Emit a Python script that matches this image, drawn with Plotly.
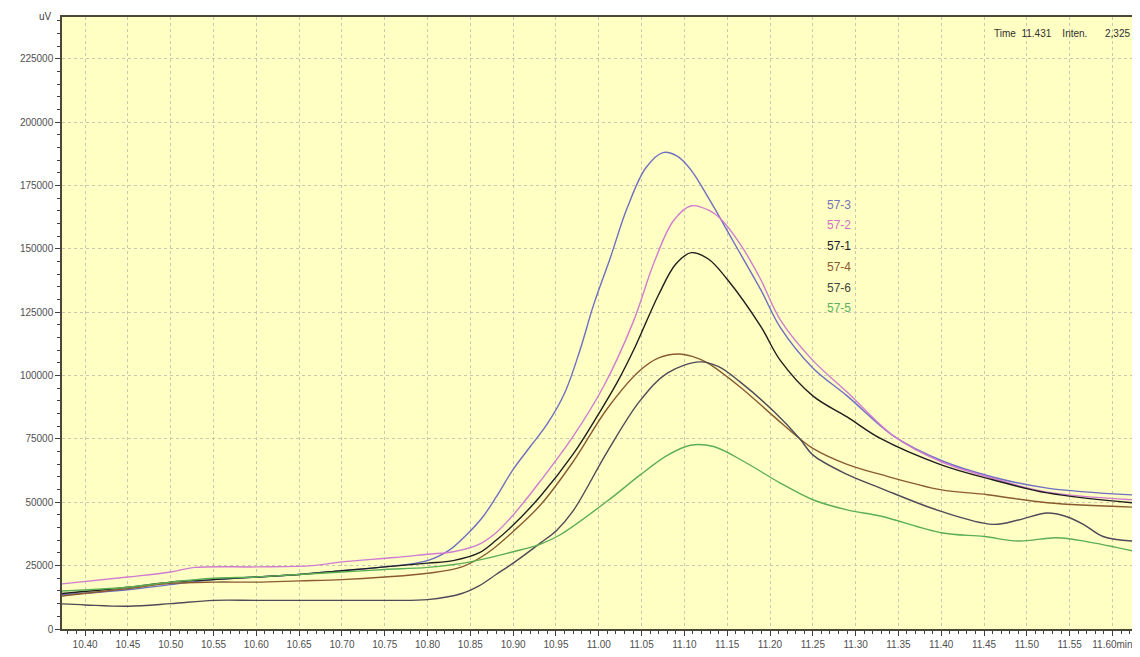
import plotly.graph_objects as go

# ---------------- data ----------------
x_ticks = [10.40, 10.45, 10.50, 10.55, 10.60, 10.65, 10.70, 10.75, 10.80, 10.85, 10.90, 10.95,
           11.00, 11.05, 11.10, 11.15, 11.20, 11.25, 11.30, 11.35, 11.40, 11.45, 11.50, 11.55, 11.60]
x_tick_text = ["10.40", "10.45", "10.50", "10.55", "10.60", "10.65", "10.70", "10.75", "10.80",
               "10.85", "10.90", "10.95", "11.00", "11.05", "11.10", "11.15", "11.20", "11.25",
               "11.30", "11.35", "11.40", "11.45", "11.50", "11.55", "11.60min"]
y_ticks = [0, 25000, 50000, 75000, 100000, 125000, 150000, 175000, 200000, 225000]

series_names = ["57-3", "57-2", "57-1", "57-4", "57-6", "57-5"]

t_573 = [10.373, 10.45, 10.50, 10.55, 10.60, 10.65, 10.70, 10.75, 10.80, 10.825, 10.845, 10.864,
         10.88, 10.90, 10.92, 10.94, 10.96, 10.978, 10.994, 11.013, 11.033, 11.055, 11.075, 11.092,
         11.108, 11.13, 11.157, 11.189, 11.212, 11.25, 11.29, 11.345, 11.40, 11.46, 11.524, 11.624]
v_573 = [13500, 15500, 17500, 19500, 20500, 21500, 23000, 24500, 27000, 31000, 37000, 44000,
         52000, 63000, 72000, 81000, 93000, 110000, 128000, 146000, 166000, 182000, 188000, 186500,
         181000, 169000, 153000, 134000, 119000, 103000, 92000, 76000, 66500, 60000, 55600, 52900]

t_572 = [10.373, 10.45, 10.50, 10.528, 10.60, 10.665, 10.70, 10.762, 10.80, 10.83, 10.86, 10.88,
         10.90, 10.932, 10.97, 11.006, 11.04, 11.065, 11.087, 11.108, 11.13, 11.142, 11.165,
         11.189, 11.212, 11.25, 11.29, 11.345, 11.40, 11.46, 11.524, 11.624]
v_572 = [17800, 20500, 22500, 24300, 24500, 25000, 26500, 28200, 29500, 30500, 33400, 38000,
         45000, 58500, 76000, 96000, 121000, 145000, 161000, 167000, 165000, 162000, 152000,
         138000, 122000, 106000, 93500, 76000, 66000, 59500, 54000, 51000]

t_571 = [10.373, 10.45, 10.50, 10.55, 10.60, 10.65, 10.70, 10.75, 10.80, 10.83, 10.86, 10.88,
         10.90, 10.932, 10.97, 11.00, 11.021, 11.042, 11.07, 11.09, 11.108, 11.128, 11.15, 11.189,
         11.212, 11.25, 11.29, 11.329, 11.40, 11.46, 11.524, 11.624]
v_571 = [14000, 16500, 18500, 19500, 20500, 21500, 23000, 24500, 26000, 27000, 30000, 35000,
         41000, 52500, 69000, 85000, 97000, 111000, 132000, 144000, 148500, 146000, 138000, 119500,
         106000, 92000, 83700, 75200, 64800, 58900, 53700, 49800]

t_574 = [10.373, 10.45, 10.50, 10.55, 10.60, 10.65, 10.70, 10.75, 10.80, 10.84, 10.87, 10.90,
         10.932, 10.97, 11.01, 11.048, 11.07, 11.093, 11.11, 11.127, 11.165, 11.204, 11.235, 11.25,
         11.29, 11.329, 11.399, 11.454, 11.524, 11.624]
v_574 = [13000, 16000, 18000, 18500, 18500, 19000, 19500, 20500, 22000, 24500, 30000, 38500,
         49000, 66000, 87000, 102000, 107000, 108500, 107500, 105000, 95500, 84000, 75000, 71300,
         65000, 61000, 55000, 53000, 49800, 48100]

t_576 = [10.373, 10.40, 10.45, 10.50, 10.55, 10.60, 10.65, 10.70, 10.75, 10.80, 10.84, 10.86,
         10.88, 10.90, 10.932, 10.951, 10.97, 11.01, 11.048, 11.08, 11.118, 11.14, 11.165, 11.204,
         11.235, 11.25, 11.29, 11.329, 11.399, 11.46, 11.49, 11.524, 11.545, 11.566, 11.589, 11.624]
v_576 = [9900, 9500, 9000, 10000, 11300, 11300, 11300, 11300, 11300, 11600, 14000, 17000,
         21500, 26000, 34000, 39000, 46600, 70000, 90000, 101000, 105400, 103500, 97500, 86000,
         75000, 68700, 61000, 55600, 46500, 41300, 43000, 45800, 44500, 41300, 36500, 34700]

t_575 = [10.373, 10.45, 10.50, 10.55, 10.60, 10.65, 10.70, 10.75, 10.80, 10.85, 10.90, 10.932,
         10.955, 11.01, 11.048, 11.08, 11.107, 11.134, 11.17, 11.212, 11.25, 11.29, 11.33, 11.40,
         11.45, 11.49, 11.535, 11.57, 11.624]
v_575 = [15000, 16500, 18500, 20000, 20500, 21500, 22500, 23500, 24300, 26500, 30500, 33500,
         37200, 50500, 60700, 68500, 72500, 72000, 66000, 57600, 51000, 47000, 44500, 38000,
         36500, 34700, 36000, 34500, 30800]

series_t = [t_573, t_572, t_571, t_574, t_576, t_575]
series_v = [v_573, v_572, v_571, v_574, v_576, v_575]
line_colors = ["#6E6EC4", "#D07CD0", "#1E1E1E", "#8A5A30", "#4E4A58", "#5CAE55"]
label_colors = ["#7474B8", "#D070C8", "#202020", "#8A5A30", "#3E463E", "#5CAE60"]

FONT = "Liberation Sans, Arial, sans-serif"

fig = go.Figure()
for name, t, v, c in zip(series_names, series_t, series_v, line_colors):
    fig.add_trace(go.Scatter(x=t, y=v, mode="lines", name=name,
                             line=dict(color=c, width=1.4, shape="spline", smoothing=1.0)))

# in-plot legend labels
for i, (name, c) in enumerate(zip(series_names, label_colors)):
    fig.add_annotation(x=11.28, y=167500 - i * 8200, xref="x", yref="y", text=name,
                       showarrow=False, font=dict(family=FONT, size=12, color=c))

fig.add_annotation(x=-0.023, y=1.013, xref="paper", yref="paper", text="uV", showarrow=False,
                   font=dict(family=FONT, size=10, color="#404040"))
fig.add_annotation(x=0.868, y=0.986, xref="paper", yref="paper", xanchor="left",
                   text="Time&nbsp;&nbsp;11.431&nbsp;&nbsp;&nbsp;&nbsp;Inten.", showarrow=False,
                   font=dict(family=FONT, size=10, color="#303030"))
fig.add_annotation(x=0.999, y=0.986, xref="paper", yref="paper", xanchor="right",
                   text="2,325", showarrow=False, font=dict(family=FONT, size=10, color="#303030"))

# right border
fig.add_shape(type="line", xref="paper", yref="paper", x0=1, x1=1, y0=0, y1=1,
              line=dict(color="#A8A8A0", width=1))

fig.update_layout(
    width=1132, height=649,
    margin=dict(l=54, r=7, t=9, b=22),
    paper_bgcolor="#FFFFFF",
    plot_bgcolor="#FFFFC4",
    showlegend=False,
    font=dict(family=FONT, size=10, color="#505050"),
)
fig.update_xaxes(range=[10.373, 11.624], tickvals=x_ticks, ticktext=x_tick_text,
                 showgrid=True, gridcolor="#C8C8B0", griddash="3px,3px", gridwidth=1,
                 ticks="outside", ticklen=5, tickcolor="#404040",
                 minor=dict(dtick=0.01, tick0=10.40, ticks="outside", ticklen=3, tickcolor="#404040", showgrid=False),
                 showline=True, linecolor="#4A4638", linewidth=1.5, mirror=True,
                 zeroline=False, tickfont=dict(family=FONT, size=10, color="#505050"))
fig.update_yaxes(range=[0, 241500], tickvals=y_ticks, tickformat="d",
                 showgrid=True, gridcolor="#C8C8B0", griddash="3px,3px", gridwidth=1,
                 ticks="outside", ticklen=5, tickcolor="#404040",
                 minor=dict(dtick=5000, tick0=0, ticks="outside", ticklen=3, tickcolor="#404040", showgrid=False),
                 showline=True, linecolor="#4A4638", linewidth=1.5,
                 zeroline=False, tickfont=dict(family=FONT, size=10, color="#505050"))

fig.write_html("out.html")
